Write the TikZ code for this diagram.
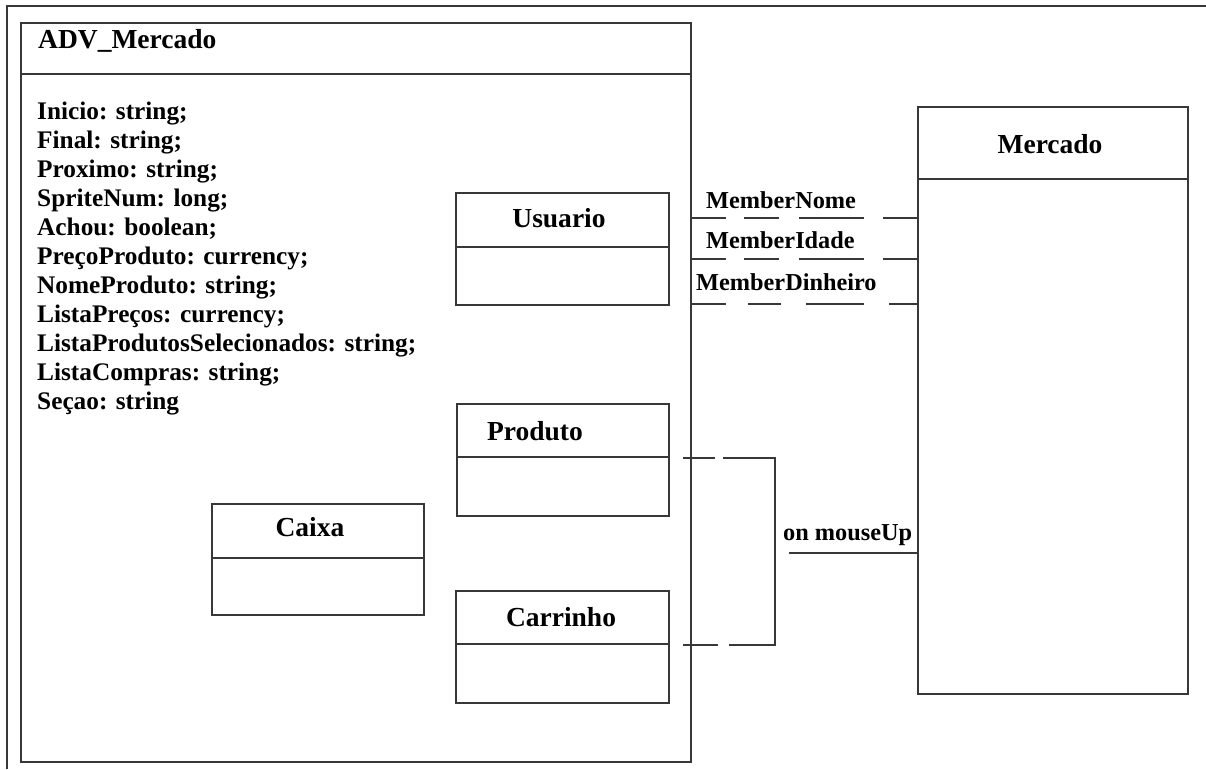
\documentclass[tikz,border=0pt]{standalone}
\usepackage{fontspec}
\setmainfont{Liberation Serif}
\begin{document}
\begin{tikzpicture}[x=1pt,y=-1pt,
  ln/.style={draw=black!78,line width=1.3pt},
  cls/.style={ln,rectangle,inner sep=0pt,outer sep=0pt,anchor=north west},
  hdr/.style={font=\fontsize{27.5}{30}\selectfont\bfseries,inner sep=0pt,anchor=base},
  attr/.style={font=\fontsize{25.3}{29}\selectfont\bfseries,inner sep=0pt,anchor=base west},
  lbl/.style={font=\fontsize{24.3}{28}\selectfont\bfseries,inner sep=0pt,anchor=base west},
  mdash/.style={ln,dash pattern=on 35pt off 18pt on 35pt off 20pt on 65pt off 19pt on 60pt},
  pdash/.style={ln,dash pattern=on 0pt off 14pt on 32pt off 8pt on 285pt off 11pt on 35pt off 14pt}]
\useasboundingbox (0,0) rectangle (1206,769);
% outer frame
\draw[ln] (1206,6) -- (7,6) -- (7,769);
% ADV_Mercado
\node[cls,minimum width=670pt,minimum height=739pt] (adv) at (21,23) {};
\draw[ln] ([yshift=-51pt]adv.north west) -- ([yshift=-51pt]adv.north east);
\node[hdr,anchor=base west] (advt) at (38,48) {ADV\_Mercado};
\foreach \t [count=\i] in {Inicio: string;,Final: string;,Proximo: string;,SpriteNum: long;,Achou: boolean;,PreçoProduto: currency;,NomeProduto: string;,ListaPreços: currency;,ListaProdutosSelecionados: string;,ListaCompras: string;,Seçao: string}
  \node[attr] (attr\i) at (37,{119+29*(\i-1)}) {\t};
% Mercado
\node[cls,minimum width=270pt,minimum height=587pt] (mercado) at (918,107) {};
\draw[ln] ([yshift=-72pt]mercado.north west) -- ([yshift=-72pt]mercado.north east);
\node[hdr] (mercadot) at (1050,153) {Mercado};
% Usuario
\node[cls,minimum width=213pt,minimum height=112pt] (usuario) at (456,193) {};
\draw[ln] ([yshift=-54pt]usuario.north west) -- ([yshift=-54pt]usuario.north east);
\node[hdr] (usuariot) at (559,227) {Usuario};
% Produto
\node[cls,minimum width=212pt,minimum height=112pt] (produto) at (457,404) {};
\draw[ln] ([yshift=-53pt]produto.north west) -- ([yshift=-53pt]produto.north east);
\node[hdr] (produtot) at (535,440) {Produto};
% Carrinho
\node[cls,minimum width=213pt,minimum height=112pt] (carrinho) at (456,591) {};
\draw[ln] ([yshift=-53pt]carrinho.north west) -- ([yshift=-53pt]carrinho.north east);
\node[hdr] (carrinhot) at (561,626) {Carrinho};
% Caixa
\node[cls,minimum width=212pt,minimum height=111pt] (caixa) at (212,504) {};
\draw[ln] ([yshift=-54pt]caixa.north west) -- ([yshift=-54pt]caixa.north east);
\node[hdr] (caixat) at (310,536) {Caixa};
% Member connectors
\coordinate (m1) at (700,218);
\coordinate (m2) at (700,259);
\coordinate (m3) at (700,304);
\draw[mdash] (m1 -| adv.east) -- (m1 -| mercado.west);
\draw[mdash] (m2 -| adv.east) -- (m2 -| mercado.west);
\draw[mdash,dash pattern=on 35pt off 22pt on 33pt off 25pt on 58pt off 25pt on 60pt] (m3 -| adv.east) -- (m3 -| mercado.west);
\node[lbl] (l1) at (706,208) {MemberNome};
\node[lbl] (l2) at (706,248) {MemberIdade};
\node[lbl] (l3) at (696,290) {MemberDinheiro};
% Produto / Carrinho connector
\coordinate (pj) at (775,458);
\coordinate (cj) at (775,645);
\draw[pdash] (pj -| produto.east) -- (pj) -- (cj) -- (cj -| carrinho.east);
% on mouseUp
\coordinate (mu) at (789,553);
\draw[ln] (mu) -- (mu -| mercado.west);
\node[lbl] (mul) at (783,540) {on mouseUp};
\end{tikzpicture}
\end{document}
